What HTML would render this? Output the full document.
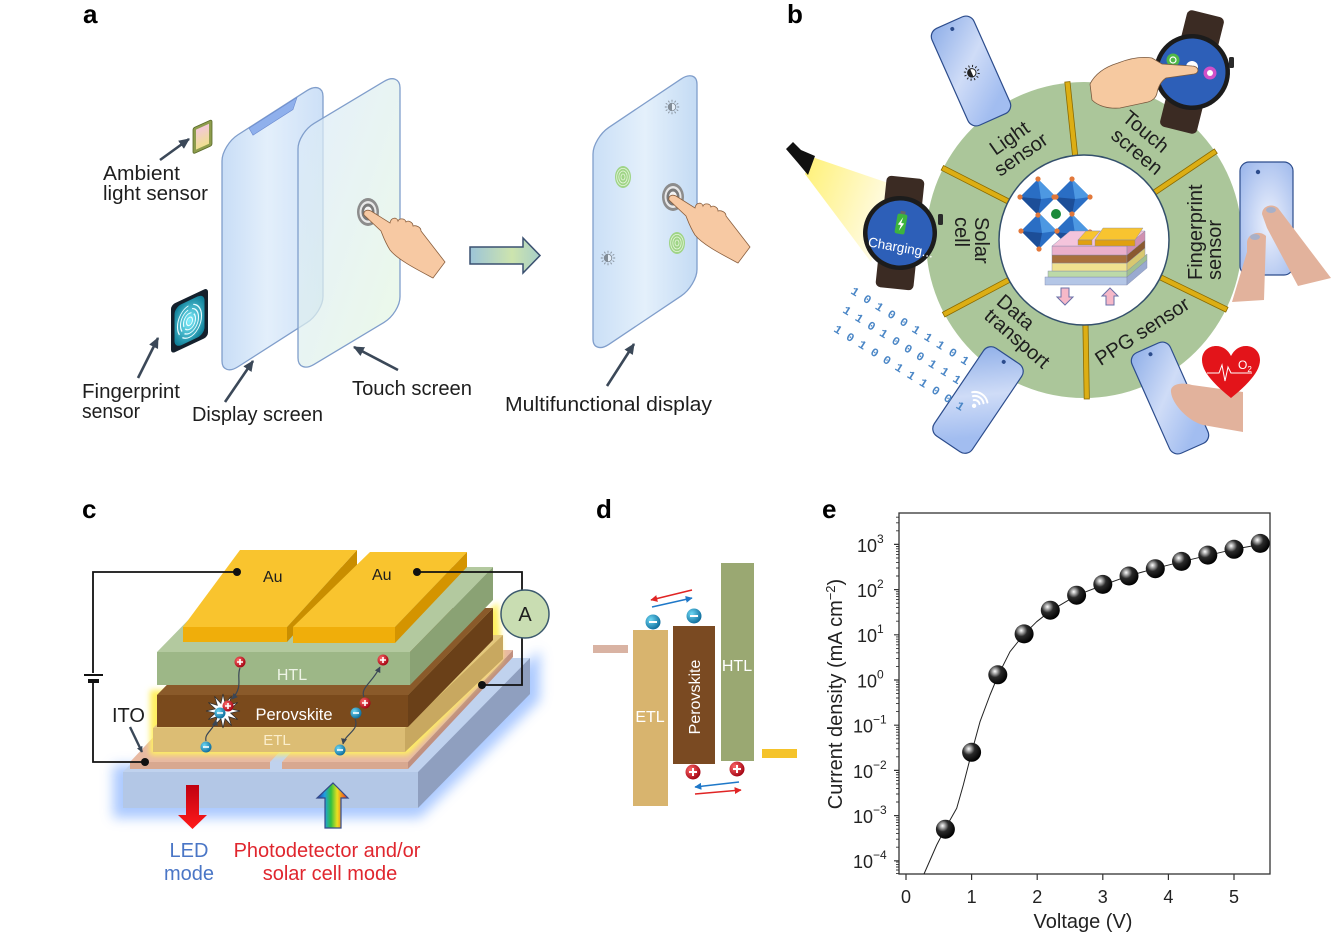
<!DOCTYPE html>
<html><head><meta charset="utf-8">
<style>
html,body{margin:0;padding:0;background:#fff;width:1338px;height:939px;overflow:hidden}
svg{display:block;font-family:"Liberation Sans","DejaVu Sans",sans-serif}
</style></head><body>
<svg width="1338" height="939" viewBox="0 0 1338 939" xmlns="http://www.w3.org/2000/svg">
<defs>
<marker id="ar" viewBox="0 0 10 10" refX="9" refY="5" markerWidth="11" markerHeight="11" markerUnits="userSpaceOnUse" orient="auto"><path d="M0,0.5 L10,5 L0,9.5 z" fill="#3b4858"/></marker>
<marker id="arS" viewBox="0 0 10 10" refX="9" refY="5" markerWidth="6" markerHeight="6" markerUnits="userSpaceOnUse" orient="auto"><path d="M0,0 L10,5 L0,10 z" fill="#3a4656"/></marker>
<marker id="arR" viewBox="0 0 10 10" refX="9" refY="5" markerWidth="7" markerHeight="7" markerUnits="userSpaceOnUse" orient="auto"><path d="M0,0 L10,5 L0,10 z" fill="#e02424"/></marker>
<marker id="arB" viewBox="0 0 10 10" refX="9" refY="5" markerWidth="7" markerHeight="7" markerUnits="userSpaceOnUse" orient="auto"><path d="M0,0 L10,5 L0,10 z" fill="#1f78c8"/></marker>
<linearGradient id="dispG" x1="0" y1="0" x2="1" y2="0"><stop offset="0" stop-color="#c8ddf6"/><stop offset=".45" stop-color="#e3effb"/><stop offset="1" stop-color="#cde0f7"/></linearGradient>
<linearGradient id="touchG" x1="0" y1="0" x2="1" y2="1"><stop offset="0" stop-color="#dbeaf9"/><stop offset="1" stop-color="#e4f6e2"/></linearGradient>
<linearGradient id="multiG" x1="0" y1="0" x2="1" y2="0"><stop offset="0" stop-color="#cadff6"/><stop offset=".5" stop-color="#e4f0fb"/><stop offset="1" stop-color="#c4dbf4"/></linearGradient>
<linearGradient id="bigArr" x1="0" y1="0" x2="1" y2="0"><stop offset="0" stop-color="#9cc4d8"/><stop offset=".6" stop-color="#cde4ae"/><stop offset="1" stop-color="#a8cfc8"/></linearGradient>
<radialGradient id="fpG" cx=".5" cy=".5" r=".6"><stop offset="0" stop-color="#7ff0ff"/><stop offset="1" stop-color="#0f7f98"/></radialGradient>
<linearGradient id="chipG" x1="0" y1="0" x2="0" y2="1"><stop offset="0" stop-color="#f4c8d8"/><stop offset="1" stop-color="#f0e090"/></linearGradient>
<linearGradient id="phG" x1="0" y1="0" x2=".35" y2="1"><stop offset="0" stop-color="#8eaee8"/><stop offset=".55" stop-color="#cfdcf7"/><stop offset="1" stop-color="#a2bdf0"/></linearGradient>
<radialGradient id="phR" cx=".55" cy=".55" r=".7"><stop offset="0" stop-color="#eef2fd"/><stop offset="1" stop-color="#9fb9ec"/></radialGradient>
<linearGradient id="beamG" x1="0" y1="0" x2="1" y2=".4"><stop offset="0" stop-color="#fff06a"/><stop offset="1" stop-color="#fffbe6"/></linearGradient>
<radialGradient id="ball" cx=".35" cy=".32" r=".7"><stop offset="0" stop-color="#fff"/><stop offset=".12" stop-color="#c8c8c8"/><stop offset=".45" stop-color="#2a2a2a"/><stop offset="1" stop-color="#000"/></radialGradient>
<radialGradient id="redB" cx=".35" cy=".35" r=".7"><stop offset="0" stop-color="#ff6a6a"/><stop offset="1" stop-color="#a00010"/></radialGradient>
<radialGradient id="bluB" cx=".35" cy=".35" r=".7"><stop offset="0" stop-color="#6fd8f4"/><stop offset="1" stop-color="#0b6a9a"/></radialGradient>
<linearGradient id="rainG" x1="0" y1="0" x2="1" y2="0"><stop offset="0" stop-color="#2030b0"/><stop offset=".25" stop-color="#20a0e0"/><stop offset=".45" stop-color="#30c040"/><stop offset=".65" stop-color="#e8e020"/><stop offset=".82" stop-color="#f08020"/><stop offset="1" stop-color="#e02020"/></linearGradient>
<linearGradient id="redA" x1="0" y1="0" x2="0" y2="1"><stop offset="0" stop-color="#c00010"/><stop offset="1" stop-color="#ff1a1a"/></linearGradient>
<filter id="bl6" x="-30%" y="-30%" width="160%" height="160%"><feGaussianBlur stdDeviation="6"/></filter>
<filter id="bl3" x="-30%" y="-30%" width="160%" height="160%"><feGaussianBlur stdDeviation="3"/></filter>
<g id="hand"><path d="M -4,3 C -5,-1 -1,-3 3,-1 L 22,11 C 23,5 29,5 30,9 C 31,6 37,6 38,10 C 40,8 45,10 45,14 C 48,13 53,15 53,19 L 77,50 L 65,66 C 50,58 30,48 22,38 C 17,30 15,24 13,19 Z" fill="#f7c9a3" stroke="#8a5f3e" stroke-width=".8"/></g>
<g id="ripple"><ellipse rx="11" ry="14" fill="#8c8c8c"/><ellipse rx="8.5" ry="11" fill="#e8e8e8"/><ellipse rx="6.5" ry="8.5" fill="#7a7a7a"/><ellipse rx="4" ry="5.5" fill="#f4f4f4"/></g>
<g id="sun"><circle r="4.2" fill="#fff" stroke="#222" stroke-width="1"/><path d="M0,-4.2 A4.2,4.2 0 0 0 0,4.2 Z" fill="#222"/><path d="M5.8,0L8,0 M5.02,2.9L6.93,4 M2.9,5.02L4,6.93 M0,5.8L0,8 M-2.9,5.02L-4,6.93 M-5.02,2.9L-6.93,4 M-5.8,0L-8,0 M-5.02,-2.9L-6.93,-4 M-2.9,-5.02L-4,-6.93 M0,-5.8L0,-8 M2.9,-5.02L4,-6.93 M5.02,-2.9L6.93,-4" stroke="#222" stroke-width="1"/></g>
<g id="fpg"><ellipse rx="8" ry="11" fill="#9fd486"/><g fill="none" stroke="#e6f6dc" stroke-width=".8"><ellipse rx="2" ry="3"/><ellipse rx="4.2" ry="6"/><ellipse rx="6.3" ry="8.6"/></g></g>
<g id="plus"><circle r="5.5" fill="url(#redB)"/><path d="M-3,0H3M0,-3V3" stroke="#fff" stroke-width="1.6"/></g>
<g id="minus"><circle r="5.5" fill="url(#bluB)"/><path d="M-3,0H3" stroke="#fff" stroke-width="1.6"/></g>
<g id="plusL"><circle r="7.5" fill="url(#redB)"/><path d="M-4,0H4M0,-4V4" stroke="#fff" stroke-width="2"/></g>
<g id="minusL"><circle r="7.5" fill="url(#bluB)"/><path d="M-4,0H4" stroke="#fff" stroke-width="2"/></g>
</defs>

<!-- panel labels -->
<g font-size="26" font-weight="bold" fill="#000">
<text x="83" y="23">a</text>
<text x="787" y="23">b</text>
<text x="82" y="518">c</text>
<text x="596" y="518">d</text>
<text x="822" y="518">e</text>
</g>

<!-- ================= PANEL A ================= -->
<rect width="101" height="232" rx="16" transform="matrix(1,-0.64,0,1,222,145)" fill="url(#dispG)" stroke="#809ecb" stroke-width="1.3" vector-effect="non-scaling-stroke"/>
<polygon transform="matrix(1,-0.64,0,1,222,145)" points="27,0.5 75,0.5 71,10 31,10" fill="#8fb0ec" stroke="#6a8ad0" stroke-width=".6" vector-effect="non-scaling-stroke"/>
<rect width="102" height="241" rx="16" transform="matrix(1,-0.6,0,1,298,133)" fill="url(#touchG)" fill-opacity=".72" stroke="#809ecb" stroke-width="1.3" vector-effect="non-scaling-stroke"/>
<use href="#ripple" x="368" y="212"/>
<use href="#hand" x="368" y="212"/>

<!-- ambient chip -->
<g transform="matrix(1,-0.45,0,1,193,128)"><rect width="19" height="26" rx="2" fill="#8d9c4c" stroke="#5a6a2a" stroke-width=".8" vector-effect="non-scaling-stroke"/><rect x="3" y="3" width="13" height="20" fill="url(#chipG)"/></g>
<!-- fingerprint tile -->
<g transform="matrix(1,-0.47,0,1,171,305)"><rect width="37" height="49" rx="4" fill="#14202c"/><rect x="3.5" y="4" width="30" height="41" rx="7" fill="url(#fpG)"/>
<g fill="none" stroke="#eafcff" stroke-width="1.1"><ellipse cx="18.5" cy="25" rx="3" ry="4"/><ellipse cx="18.5" cy="25" rx="6" ry="8" stroke-dasharray="16 3"/><ellipse cx="18.5" cy="25" rx="9" ry="12" stroke-dasharray="22 4"/><ellipse cx="18.5" cy="25" rx="12" ry="16" stroke-dasharray="30 5"/></g></g>

<g stroke="#3b4858" stroke-width="2.6" marker-end="url(#ar)">
<line x1="160" y1="160" x2="189" y2="139"/>
<line x1="138" y1="378" x2="158" y2="338"/>
<line x1="225" y1="402" x2="253" y2="361"/>
<line x1="398" y1="370" x2="354" y2="347"/>
<line x1="607" y1="386" x2="634" y2="344"/>
</g>

<polygon points="470,247 523,247 523,238 540,255.5 523,273 523,264 470,264" fill="url(#bigArr)" stroke="#3a5070" stroke-width="1.5"/>

<rect width="104" height="217" rx="16" transform="matrix(1,-0.67,0,1,593,138)" fill="url(#multiG)" stroke="#809ecb" stroke-width="1.3" vector-effect="non-scaling-stroke"/>
<use href="#sun" transform="translate(672,107) scale(.9)" opacity=".45"/>
<use href="#sun" transform="translate(608,258) scale(.9)" opacity=".45"/>
<use href="#fpg" x="623" y="177"/>
<use href="#fpg" x="677" y="243"/>
<use href="#ripple" x="673" y="197"/>
<use href="#hand" x="673" y="197"/>

<g font-size="20" fill="#1e1e1e">
<text x="103" y="180" textLength="77" lengthAdjust="spacingAndGlyphs">Ambient</text>
<text x="103" y="200" textLength="105" lengthAdjust="spacingAndGlyphs">light sensor</text>
<text x="82" y="398" textLength="98" lengthAdjust="spacingAndGlyphs">Fingerprint</text>
<text x="82" y="418" textLength="58" lengthAdjust="spacingAndGlyphs">sensor</text>
<text x="192" y="421" textLength="131" lengthAdjust="spacingAndGlyphs">Display screen</text>
<text x="352" y="395" textLength="120" lengthAdjust="spacingAndGlyphs">Touch screen</text>
<text x="505" y="411" textLength="207" lengthAdjust="spacingAndGlyphs">Multifunctional display</text>
</g>

<!-- ================= PANEL B ================= -->
<polygon points="812,157 894,185 871,262 805,174" fill="url(#beamG)" opacity=".92"/>
<path d="M786,149 L793,142 L801,150 L815,156 L808,175 L798,163 Z" fill="#111"/>

<circle cx="1084" cy="240" r="158" fill="#abc69a"/>
<g transform="translate(1084,240)" fill="#dcae14" stroke="#8a6a00" stroke-width=".8">
<rect x="84" y="-2.6" width="75" height="5.2" transform="rotate(-96)"/>
<rect x="84" y="-2.6" width="75" height="5.2" transform="rotate(-34)"/>
<rect x="84" y="-2.6" width="75" height="5.2" transform="rotate(26)"/>
<rect x="84" y="-2.6" width="75" height="5.2" transform="rotate(89)"/>
<rect x="84" y="-2.6" width="75" height="5.2" transform="rotate(152)"/>
<rect x="84" y="-2.6" width="75" height="5.2" transform="rotate(207)"/>
</g>
<circle cx="1084" cy="240" r="85" fill="#fff" stroke="#34506c" stroke-width="1.5"/>

<g font-size="20" fill="#1e1e1e">
<g text-anchor="middle">
<g transform="translate(1015,146) rotate(-35)"><text y="-3">Light</text><text y="17">sensor</text></g>
<g transform="translate(1142,141) rotate(40)"><text x="-3" y="-3">Touch</text><text x="3" y="18">screen</text></g>
<text transform="translate(1142,331) rotate(-33)" y="7">PPG sensor</text>
</g>
<g transform="translate(1205,280) rotate(-90)"><text y="-3">Fingerprint</text><text y="16">sensor</text></g>
<g transform="translate(972,217) rotate(90)"><text y="-3">Solar</text><text y="17">cell</text></g>
<g transform="translate(1000,298) rotate(41)"><text y="7">Data</text><text y="26">transport</text></g>
</g>

<!-- crystal -->
<g>
<polygon points="1038,179 1056,197 1038,215 1020,197" fill="#2a6ec4"/><polygon points="1038,179 1056,197 1041,199" fill="#4d98e2"/><polygon points="1020,197 1038,215 1041,199" fill="#1c4e98"/>
<polygon points="1072,179 1090,197 1072,215 1054,197" fill="#2a6ec4"/><polygon points="1072,179 1090,197 1075,199" fill="#4d98e2"/><polygon points="1054,197 1072,215 1075,199" fill="#1c4e98"/>
<polygon points="1039,213 1057,231 1039,249 1021,231" fill="#2a6ec4"/><polygon points="1039,213 1057,231 1042,233" fill="#4d98e2"/><polygon points="1021,231 1039,249 1042,233" fill="#1c4e98"/>
<polygon points="1072,214 1090,232 1072,250 1054,232" fill="#2a6ec4"/><polygon points="1072,214 1090,232 1075,234" fill="#4d98e2"/><polygon points="1054,232 1072,250 1075,234" fill="#1c4e98"/>
<g fill="#e2783a">
<circle cx="1038" cy="179" r="2.6"/><circle cx="1056" cy="197" r="2.6"/><circle cx="1020" cy="197" r="2.6"/><circle cx="1038" cy="215" r="2.6"/>
<circle cx="1072" cy="179" r="2.6"/><circle cx="1090" cy="197" r="2.6"/><circle cx="1054" cy="197" r="2.6"/>
<circle cx="1039" cy="249" r="2.6"/><circle cx="1021" cy="231" r="2.6"/><circle cx="1057" cy="231" r="2.6"/>
<circle cx="1072" cy="214" r="2.6"/><circle cx="1090" cy="232" r="2.6"/><circle cx="1072" cy="250" r="2.6"/>
</g>
<circle cx="1056" cy="214" r="5" fill="#1a8a3a"/>
</g>
<!-- mini device stack -->
<g stroke="#7d86a8" stroke-width=".4">
<rect x="1045" y="277" width="82" height="8" fill="#b4c6e6"/><polygon points="1127,277 1147,260 1147,268 1127,285" fill="#9aaad0"/>
<rect x="1048" y="271" width="79" height="6" fill="#bcd9a8"/><polygon points="1127,271 1147,254 1147,260 1127,277" fill="#a0c090"/>
<rect x="1052" y="263" width="75" height="8" fill="#f0e290"/><polygon points="1127,263 1145,248 1145,256 1127,271" fill="#d8c870"/>
<rect x="1052" y="255" width="75" height="8" fill="#a8703e"/><polygon points="1127,255 1145,240 1145,248 1127,263" fill="#8a5a30"/>
<rect x="1052" y="246" width="75" height="9" fill="#eab0cc"/><polygon points="1127,246 1145,231 1145,240 1127,255" fill="#d090b0"/>
<polygon points="1052,246 1127,246 1145,231 1070,231" fill="#f4c4dc"/>
<polygon points="1078,240 1092,240 1100,231 1086,231" fill="#f8c430"/><rect x="1078" y="240" width="14" height="5" fill="#e0a010"/>
<polygon points="1095,240 1135,240 1143,228 1103,228" fill="#f8c430"/><rect x="1095" y="240" width="40" height="6" fill="#e0a010"/>
</g>
<polygon points="1061,288 1069,288 1069,297 1073,297 1065,305 1057,297 1061,297" fill="#f6b8c8" stroke="#6a70a8" stroke-width="1"/>
<polygon points="1106,305 1114,305 1114,296 1118,296 1110,288 1102,296 1106,296" fill="#f6b8c8" stroke="#6a70a8" stroke-width="1"/>

<!-- left watch -->
<g transform="translate(900,233) rotate(6)">
<rect x="-19" y="-56" width="38" height="112" rx="5" fill="#3b2b23"/>
<circle r="37" fill="#1c1c1c"/>
<circle r="32.5" fill="#2d5fb8"/>
</g>
<rect x="938" y="214" width="5" height="11" rx="1.5" fill="#2a2a2a"/>
<g transform="translate(901,224) rotate(10)"><rect x="-2.5" y="-13" width="5" height="3" fill="#666"/><rect x="-5" y="-10" width="10" height="20" rx="2" fill="#3db43d"/><path d="M1,-7 L-3,1 L0,1 L-1,7 L3,-1 L0,-1 Z" fill="#fff"/></g>
<text transform="translate(900,252) rotate(10)" text-anchor="middle" font-size="13.5" fill="#fff">Charging...</text>

<!-- top-right watch -->
<g transform="translate(1192,72) rotate(14)">
<rect x="-19" y="-60" width="38" height="120" rx="5" fill="#3b2b23"/>
<circle r="38" fill="#1c1c1c"/>
<circle r="33.5" fill="#2d5fb8"/>
</g>
<rect x="1229" y="57" width="5" height="11" rx="1.5" fill="#2a2a2a"/>
<circle cx="1173" cy="60" r="6.5" fill="#50b848"/><circle cx="1173" cy="60" r="3" fill="none" stroke="#fff" stroke-width="1.2"/>
<circle cx="1192" cy="67" r="6" fill="#fff"/>
<circle cx="1210" cy="73" r="6.5" fill="#d050c8"/><circle cx="1210" cy="73" r="3" fill="#fff"/>
<path d="M1090,84 C1095,74 1105,67 1118,63 C1128,59 1140,56 1152,58 L1162,64 L1192,66 C1199,66 1200,73 1194,74 L1166,78 C1160,82 1158,88 1157,93 C1156,98 1152,101 1148,102 L1120,108 C1108,109 1098,106 1092,100 Z" fill="#f6c9a0" stroke="#7a5a40" stroke-width=".8"/>

<!-- phones -->
<g transform="translate(971,71) rotate(-24)"><rect x="-23" y="-53" width="46" height="106" rx="9" fill="url(#phG)" stroke="#2c4c8c" stroke-width="1.2"/><circle cy="-46" r="2" fill="#2c4c8c"/><use href="#sun" y="2"/></g>
<g transform="translate(978,400) rotate(34)"><rect x="-23" y="-53" width="46" height="106" rx="9" fill="url(#phG)" stroke="#2c4c8c" stroke-width="1.2"/><circle cy="-46" r="2" fill="#2c4c8c"/>
<g fill="none" stroke="#fff" stroke-width="2" stroke-linecap="round"><path d="M-3.5,2.5 A5,5 0 0 1 3.5,2.5"/><path d="M-6.4,-0.4 A9,9 0 0 1 6.4,-0.4"/><path d="M-9.2,-3.2 A13,13 0 0 1 9.2,-3.2"/></g><circle cy="7" r="2.2" fill="#fff"/></g>
<rect x="1240" y="162" width="53" height="113" rx="9" fill="url(#phR)" stroke="#2c4c8c" stroke-width="1.2"/><circle cx="1258" cy="172" r="2.2" fill="#2c4c8c"/>
<g transform="translate(1170,398) rotate(-24)"><rect x="-21" y="-55" width="42" height="110" rx="9" fill="url(#phG)" stroke="#2c4c8c" stroke-width="1.2"/><circle cy="-48" r="2" fill="#2c4c8c"/></g>

<!-- hands b -->
<path d="M1262,214 C1262,206 1272,203 1278,208 L1331,278 L1298,286 L1267,228 Z" fill="#e2b29c"/>
<path d="M1247,242 C1248,233 1260,230 1266,236 L1264,300 L1232,302 L1247,252 Z" fill="#e2b29c"/>
<ellipse cx="1271" cy="210" rx="5" ry="3" fill="#a8b0c8"/><ellipse cx="1255" cy="237" rx="5" ry="3" fill="#a8b0c8"/>
<path d="M1171,392 C1170,384 1182,382 1192,385 L1243,392 L1243,432 L1203,425 C1188,421 1172,404 1171,392 Z" fill="#e2b29c"/>

<!-- heart -->
<path d="M1231,398 C1215,385 1202,372 1202,360 C1202,350 1210,346 1216,346 C1223,346 1228,350 1231,356 C1234,350 1239,346 1246,346 C1253,346 1260,351 1260,360 C1260,372 1247,385 1231,398 Z" fill="#e3141a"/>
<polyline points="1207,373 1219,373 1222,365 1225,381 1228,367 1231,373 1252,373" fill="none" stroke="#fff" stroke-width="1"/>
<text x="1238" y="369" font-size="12" fill="#fff">O<tspan font-size="8" dy="3">2</tspan></text>

<!-- binary -->
<g fill="#4a86c6" font-family="'Liberation Mono','DejaVu Sans Mono',monospace" font-size="12" font-weight="bold">
<text transform="translate(850,293) rotate(32)">1 0 1 0 0 1 1 1 0 1</text>
<text transform="translate(842,312) rotate(32)">1 1 0 1 0 0 0 1 1 1</text>
<text transform="translate(833,331) rotate(32)">1 0 1 0 0 1 1 1 0 0 1</text>
</g>

<!-- ================= PANEL C ================= -->
<polygon points="113,765 420,765 540,650 540,700 420,818 113,818" fill="#9cc0ff" opacity=".85" filter="url(#bl6)"/>
<polygon points="123,772 418,772 530,658 235,658" fill="#c0d2ee"/>
<rect x="123" y="772" width="295" height="36" fill="#b3c7e6"/>
<polygon points="418,772 530,658 530,694 418,808" fill="#8f9fbf"/>
<!-- ITO -->
<polygon points="130,762 270,762 375,650 235,650" fill="#e8b9a2"/>
<rect x="130" y="762" width="140" height="7" fill="#d8a890"/>
<polygon points="282,762 408,762 513,650 387,650" fill="#e8b9a2"/>
<rect x="282" y="762" width="126" height="7" fill="#d8a890"/>
<polygon points="408,762 513,650 513,657 408,769" fill="#c09080"/>
<!-- yellow glow -->
<polygon points="150,690 410,690 498,602 502,660 408,755 150,755" fill="#fff060" filter="url(#bl3)"/>
<!-- ETL -->
<polygon points="153,728 405,728 503,635 251,635" fill="#e4c87e"/>
<rect x="153" y="728" width="252" height="24" fill="#dcbd74"/>
<polygon points="405,728 503,635 503,659 405,752" fill="#c8a860"/>
<!-- Perovskite -->
<polygon points="157,695 408,695 493,608 242,608" fill="#8a5a2a"/>
<rect x="157" y="695" width="251" height="32" fill="#7a4a1c"/>
<polygon points="408,695 493,608 493,640 408,727" fill="#6a4018"/>
<!-- HTL -->
<polygon points="157,652 410,652 493,567 240,567" fill="#b3c99f"/>
<rect x="157" y="652" width="253" height="33" fill="#9db787"/>
<polygon points="410,652 493,567 493,600 410,685" fill="#8aa274"/>
<!-- Au -->
<polygon points="287,627 357,550 357,565 287,642" fill="#c98e00"/>
<polygon points="183,627 240,550 357,550 287,627" fill="#f9c42e"/>
<rect x="183" y="627" width="104" height="15" fill="#f0ae0a"/>
<polygon points="293,627 370,552 467,552 395,627" fill="#f9c42e"/>
<rect x="293" y="627" width="102" height="16" fill="#f0ae0a"/>
<polygon points="395,627 467,552 467,567 395,643" fill="#d49400"/>

<!-- circuit -->
<g fill="none" stroke="#111" stroke-width="1.8">
<polyline points="237,572 93,572 93,673"/>
<polyline points="93,682 93,762 145,762"/>
<polyline points="417,572 522,572 522,590"/>
<polyline points="522,638 522,685 482,685"/>
</g>
<line x1="84" y1="675" x2="103" y2="675" stroke="#111" stroke-width="2"/>
<line x1="88" y1="681" x2="99" y2="681" stroke="#111" stroke-width="4"/>
<g fill="#111"><circle cx="237" cy="572" r="4"/><circle cx="417" cy="572" r="4"/><circle cx="145" cy="762" r="4"/><circle cx="482" cy="685" r="4"/></g>
<circle cx="525" cy="614" r="24" fill="#c9ddb2" stroke="#3c5a6e" stroke-width="1.5"/>
<text x="525" y="621" text-anchor="middle" font-size="20" fill="#1e1e1e">A</text>

<g font-size="16" fill="#1e1e1e"><text x="263" y="582">Au</text><text x="372" y="580">Au</text></g>
<text x="292" y="680" text-anchor="middle" font-size="16" fill="#eef4e6">HTL</text>
<text x="294" y="720" text-anchor="middle" font-size="16.5" fill="#fff">Perovskite</text>
<text x="277" y="745" text-anchor="middle" font-size="15" fill="#fbeecb">ETL</text>
<text x="112" y="722" font-size="20" fill="#1e1e1e">ITO</text>
<line x1="130" y1="727" x2="142" y2="752" stroke="#3b4858" stroke-width="2.4" marker-end="url(#arS)"/>

<polygon points="240,711 230.7,713.1 237.7,719.5 228.7,716.7 231.5,725.7 225.1,718.7 223,728 220.9,718.7 214.5,725.7 217.3,716.7 208.3,719.5 215.3,713.1 206,711 215.3,708.9 208.3,702.5 217.3,705.3 214.5,696.3 220.9,703.3 223,694 225.1,703.3 231.5,696.3 228.7,705.3 237.7,702.5 230.7,708.9" fill="#fff" stroke="#333" stroke-width=".8"/>
<g fill="none" stroke="#3a4656" stroke-width="1.2" marker-end="url(#arS)">
<path d="M240,668 C236,678 244,686 232,699"/>
<path d="M206,741 C204,733 214,730 216,720"/>
<path d="M364,697 C360,688 372,683 380,667"/>
<path d="M355,719 C360,730 345,734 343,744"/>
</g>
<use href="#plus" x="240" y="662"/><use href="#plus" x="383" y="660"/><use href="#plus" x="365" y="703"/><use href="#plus" x="228" y="706"/>
<use href="#minus" x="220" y="713"/><use href="#minus" x="206" y="747"/><use href="#minus" x="356" y="713"/><use href="#minus" x="340" y="750"/>

<polygon points="186,785 199,785 199,815 207,815 192.5,829 178,815 186,815" fill="url(#redA)"/>
<polygon points="325,828 341,828 341,798 348,798 333,783 317,798 325,798" fill="url(#rainG)" stroke="#354a8a" stroke-width="1.2"/>

<g font-size="20" text-anchor="middle">
<text x="189" y="857" fill="#4a76c6">LED</text>
<text x="189" y="880" fill="#4a76c6">mode</text>
<text x="327" y="857" fill="#e0262e">Photodetector and/or</text>
<text x="330" y="880" fill="#e0262e">solar cell mode</text>
</g>

<!-- ================= PANEL D ================= -->
<rect x="593" y="645" width="35" height="8" fill="#d9b3a3"/>
<rect x="633" y="630" width="35" height="176" fill="#d8b46e"/>
<text x="650" y="722" fill="#fff" font-size="16" text-anchor="middle">ETL</text>
<rect x="673" y="626" width="42" height="138" fill="#7a4a22"/>
<text transform="translate(700,697) rotate(-90)" text-anchor="middle" fill="#fff" font-size="16">Perovskite</text>
<rect x="721" y="563" width="33" height="198" fill="#9aa872"/>
<text x="737" y="671" fill="#fff" font-size="16" text-anchor="middle">HTL</text>
<rect x="762" y="749" width="35" height="9" fill="#f5c32a"/>
<line x1="692" y1="590" x2="651" y2="600" stroke="#e02424" stroke-width="1.6" marker-end="url(#arR)"/>
<line x1="652" y1="607" x2="692" y2="598" stroke="#1f78c8" stroke-width="1.6" marker-end="url(#arB)"/>
<line x1="739" y1="782" x2="695" y2="787" stroke="#1f78c8" stroke-width="1.6" marker-end="url(#arB)"/>
<line x1="695" y1="794" x2="741" y2="790" stroke="#e02424" stroke-width="1.6" marker-end="url(#arR)"/>
<use href="#minusL" x="653" y="622"/><use href="#minusL" x="694" y="616"/>
<use href="#plusL" x="693" y="772"/><use href="#plusL" x="737" y="769"/>

<!-- ================= PANEL E ================= -->
<rect x="899" y="513" width="371" height="361" fill="none" stroke="#333" stroke-width="1.3"/>
<path d="M906,874v6 M971.6,874v6 M1037.2,874v6 M1102.8,874v6 M1168.4,874v6 M1234,874v6" stroke="#333" stroke-width="1.2"/>
<path d="M899,544.4h-5 M899,589.6h-5 M899,634.8h-5 M899,680h-5 M899,725.2h-5 M899,770.4h-5 M899,815.6h-5 M899,860.8h-5" stroke="#333" stroke-width="1.2"/>
<path d="M899,873.6h-3M899,870h-3M899,867h-3M899,864.4h-3M899,862.1h-3
M899,847.2h-3M899,839.2h-3M899,833.6h-3M899,829.2h-3M899,825.6h-3M899,822.6h-3M899,820h-3M899,817.7h-3
M899,802h-3M899,794h-3M899,788.4h-3M899,784h-3M899,780.4h-3M899,777.4h-3M899,774.8h-3M899,772.5h-3
M899,756.8h-3M899,748.8h-3M899,743.2h-3M899,738.8h-3M899,735.2h-3M899,732.2h-3M899,729.6h-3M899,727.3h-3
M899,711.6h-3M899,703.6h-3M899,698h-3M899,693.6h-3M899,690h-3M899,687h-3M899,684.4h-3M899,682.1h-3
M899,666.4h-3M899,658.4h-3M899,652.8h-3M899,648.4h-3M899,644.8h-3M899,641.8h-3M899,639.2h-3M899,636.9h-3
M899,621.2h-3M899,613.2h-3M899,607.6h-3M899,603.2h-3M899,599.6h-3M899,596.6h-3M899,594h-3M899,591.7h-3
M899,576h-3M899,568h-3M899,562.4h-3M899,558h-3M899,554.4h-3M899,551.4h-3M899,548.8h-3M899,546.5h-3
M899,530.8h-3M899,522.8h-3M899,517.2h-3" stroke="#333" stroke-width="0.9"/>
<g font-size="18" fill="#222" text-anchor="middle">
<text x="906" y="903">0</text><text x="971.6" y="903">1</text><text x="1037.2" y="903">2</text><text x="1102.8" y="903">3</text><text x="1168.4" y="903">4</text><text x="1234" y="903">5</text>
</g>
<g font-size="18" fill="#222">
<text x="857" y="552">10<tspan dy="-9" font-size="12">3</tspan></text>
<text x="857" y="597">10<tspan dy="-9" font-size="12">2</tspan></text>
<text x="857" y="642">10<tspan dy="-9" font-size="12">1</tspan></text>
<text x="857" y="687.5">10<tspan dy="-9" font-size="12">0</tspan></text>
<text x="853" y="732.7">10<tspan dy="-9" font-size="12">−1</tspan></text>
<text x="853" y="778">10<tspan dy="-9" font-size="12">−2</tspan></text>
<text x="853" y="823">10<tspan dy="-9" font-size="12">−3</tspan></text>
<text x="853" y="868">10<tspan dy="-9" font-size="12">−4</tspan></text>
</g>
<text x="1083" y="928" font-size="20" fill="#222" text-anchor="middle">Voltage (V)</text>
<text transform="translate(842,694) rotate(-90)" text-anchor="middle" font-size="20" fill="#222">Current density (mA cm<tspan dy="-7" font-size="13">−2</tspan><tspan dy="7">)</tspan></text>
<polyline points="924,874 936.7,845 945,829 956.7,808.3 963.3,785 971.7,752.3 980,721.7 990,695 998.3,675 1010,651.7 1024,634.3 1036.7,621.7 1050.7,610.7 1076.7,595.3 1103.3,585 1129.3,575.7 1155.7,568.3 1181.7,561.7 1208.3,555.3 1234,549.3 1267.3,543.3" fill="none" stroke="#222" stroke-width="1" stroke-linejoin="round"/>
<g fill="url(#ball)">
<circle cx="945.4" cy="829.2" r="9.5"/><circle cx="971.6" cy="752.3" r="9.5"/><circle cx="997.8" cy="674.8" r="9.5"/><circle cx="1024.1" cy="633.9" r="9.5"/><circle cx="1050.3" cy="610.2" r="9.5"/><circle cx="1076.6" cy="595.2" r="9.5"/><circle cx="1102.8" cy="584.4" r="9.5"/><circle cx="1129" cy="576" r="9.5"/><circle cx="1155.3" cy="568.7" r="9.5"/><circle cx="1181.5" cy="561.4" r="9.5"/><circle cx="1207.8" cy="555.1" r="9.5"/><circle cx="1234" cy="549.3" r="9.5"/><circle cx="1260.2" cy="543.4" r="9.5"/>
</g>
</svg>
</body></html>
